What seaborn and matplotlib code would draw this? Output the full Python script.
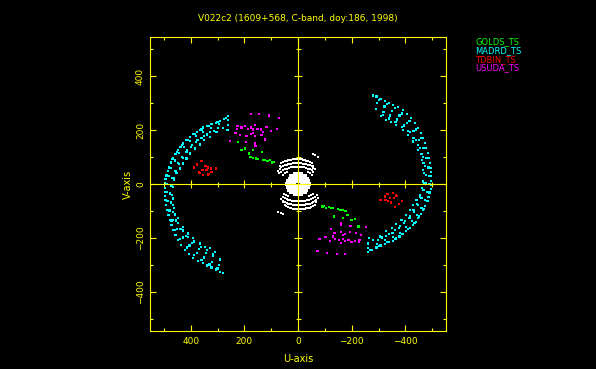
import pandas as pd
import seaborn as sns
import matplotlib.pyplot as plt
from matplotlib.ticker import MultipleLocator

# uv points (one half; the conjugate half is -u, -v)
stations = ['GOLDS_TS', 'MADRD_TS', 'TDBIN_TS', 'USUDA_TS']
colors = ['#00ff00', '#00ffff', '#ff0000', '#ff00ff']

golds_u = [225, 211, 199, 184, 177, 168, 168, 158, 149, 134, 130, 124, 114, 105, 97, 89, 93]
golds_v = [157, 128, 132, 114, 101, 97, 126, 95, 92, 120, 89, 89, 86, 89, 80, 83, 83]

madrd_u = [261, 292, 323, 354, 378, 403, 428, 447, 466, 480, 490, 496, 496, 494, 488, 478, 466, 447, 422, 391, 354, 323, 292, 279,
           276, 307, 338, 366, 391, 416, 438, 457, 473, 486, 494, 496, 495, 491, 483, 472, 457, 435, 407, 373, 338, 307,
           270, 300, 332, 360, 386, 410, 434, 452, 470, 482, 490, 493, 492, 489, 482, 472, 458, 440, 415, 388, 360, 330, 300,
           262, 295, 325, 355, 380, 402, 425, 443, 460, 473, 482, 487, 487, 484, 477, 466, 450, 430, 405, 378, 350, 322, 295,
           262, 298, 328, 352, 375, 395, 415, 432, 447, 460, 470, 475, 476, 473, 466, 454, 438, 418, 395, 370, 343, 318, 290,
           280, 313, 338, 360, 380, 398, 416, 430, 443, 455, 464, 469, 470, 467, 460, 447, 430, 410, 388, 363, 338, 316,
           263, 304, 329, 350, 366, 385, 403, 416, 428, 441, 453, 462, 466, 466, 462, 447, 428, 410, 391, 366, 347, 329, 310]
madrd_v = [252, 235, 222, 210, 194, 175, 151, 126, 95, 64, 33, 3, -29, -59, -96, -133, -170, -207, -245, -275, -294, -309, -325, -329,
           243, 228, 216, 202, 185, 163, 139, 111, 80, 48, 18, -13, -44, -78, -115, -152, -189, -226, -260, -285, -302, -317,
           245, 230, 216, 203, 186, 165, 144, 120, 92, 62, 30, 0, -30, -62, -98, -135, -170, -203, -235, -262, -282, -298, -313,
           238, 222, 208, 195, 180, 160, 138, 115, 88, 60, 30, 0, -30, -62, -98, -133, -165, -198, -228, -255, -272, -288, -300,
           220, 208, 193, 180, 163, 145, 125, 102, 78, 50, 22, -5, -35, -68, -102, -135, -165, -193, -218, -240, -255, -268, -280,
           208, 198, 184, 170, 155, 138, 118, 97, 74, 48, 22, -5, -40, -78, -113, -145, -172, -196, -213, -232, -244, -258,
           200, 194, 175, 163, 147, 132, 114, 95, 77, 58, 40, 15, -10, -53, -90, -127, -158, -183, -201, -220, -232, -238, -252]

tdbin_u = [360, 376, 387, 345, 335, 326, 307, 356, 341, 323, 369, 335, 354, 366, 333]
tdbin_v = [85, 73, 62, 68, 62, 58, 58, 52, 52, 46, 43, 36, 33, 42, 37]

usuda_u = [176, 146, 109, 72, 226, 229, 211, 199, 188, 174, 168, 161, 151, 139, 130, 118, 102, 80,
           233, 217, 192, 174, 161, 136, 124, 254, 195, 161, 159, 168]
usuda_v = [259, 259, 255, 247, 216, 206, 210, 215, 206, 210, 203, 219, 206, 203, 194, 212, 197, 204,
           190, 182, 178, 185, 178, 182, 166, 159, 155, 151, 143, 190]

# short baselines near the origin (white)
ground_u = [68, 62, 55, 49, 43, 37, 31, 25, 18, 12, 6, 0, -6, -13, -19, -25, -31, -37, -44, -50, -56,
            75, 68, 62, 56, 50, 43, 37, 31, 25, 18, 12, 6, 0, -6, -12, -19, -25, -31, -37, -43, -50, -56, -62,
            70, 62, 55, 48, 41, 34, 27, 20, 13, 6, -1, -8, -15, -22, -29, -36, -43, -50, -57,
            55, 48, 41, -38, -45, -52, -56, -62, -75]
ground_v = [68, 77, 82, 85, 87, 89, 90, 91, 92, 92, 93, 93, 93, 92, 91, 89, 87, 85, 81, 77, 68,
            50, 58, 63, 67, 70, 72, 74, 75, 76, 77, 77, 78, 78, 78, 77, 76, 75, 74, 72, 70, 66, 61, 55,
            40, 46, 51, 55, 58, 60, 62, 63, 64, 64, 64, 64, 63, 62, 60, 58, 55, 51, 46,
            35, 40, 44, 44, 40, 35, 111, 107, 102]
core_u = [-12, 0, 12, -25, -12, 0, 12, 25, -33, -20, -8, 5, 18, 30,
          -38, -25, -12, 0, 12, 25, 38, -40, -28, -15, 15, 28, 40]
core_v = [38, 38, 38, 30, 30, 30, 30, 30, 20, 20, 20, 20, 20, 20,
          10, 10, 10, 10, 10, 10, 10, 0, 0, 0, 0, 0, 0]

title = 'V022c2 (1609+568, C-band, doy:186, 1998)'


def both_halves(u, v):
    return u + [-x for x in u], v + [-y for y in v]


frames = []
for name, u, v in zip(stations, [golds_u, madrd_u, tdbin_u, usuda_u],
                      [golds_v, madrd_v, tdbin_v, usuda_v]):
    uu, vv = both_halves(u, v)
    frames.append(pd.DataFrame({'u': uu, 'v': vv, 'station': name}))
df = pd.concat(frames, ignore_index=True)

gu, gv = both_halves(ground_u, ground_v)
cu, cv = both_halves(core_u, core_v)
ground = pd.DataFrame({'u': gu, 'v': gv})
core = pd.DataFrame({'u': cu, 'v': cv})

yellow = '#ffff00'
fig = plt.figure(figsize=(5.96, 3.69), dpi=100, facecolor='black')
ax = fig.add_axes([0.2525, 0.103, 0.4953, 0.7959], facecolor='black')

sns.scatterplot(data=core, x='u', y='v', color='white', marker='s', s=8, linewidth=0, ax=ax)
sns.scatterplot(data=ground, x='u', y='v', color='white', marker='s', s=2.5, linewidth=0, ax=ax)
sns.scatterplot(data=df, x='u', y='v', hue='station', palette=dict(zip(stations, colors)),
                marker='s', s=2.5, linewidth=0, legend=False, ax=ax)

ax.set_xlim(550, -550)
ax.set_ylim(-545, 545)
ax.xaxis.set_major_locator(MultipleLocator(200))
ax.xaxis.set_minor_locator(MultipleLocator(100))
ax.yaxis.set_major_locator(MultipleLocator(200))
ax.yaxis.set_minor_locator(MultipleLocator(100))
for s in ax.spines.values():
    s.set_color(yellow)
    s.set_linewidth(0.8)
ax.tick_params(which='both', direction='in', top=True, right=True, color=yellow,
               labelcolor=yellow, labelsize=6.5, width=0.8)
ax.tick_params(which='major', length=4, pad=4)
ax.tick_params(which='minor', length=2.4)
plt.setp(ax.get_yticklabels(), rotation=90, va='center')
ax.set_xlabel('U-axis', color=yellow, fontsize=7, labelpad=6)
ax.set_ylabel('V-axis', color=yellow, fontsize=7, labelpad=2)
ax.set_title(title, color=yellow, fontsize=6.5, pad=12)

# zero lines with crossing ticks
ax2 = fig.add_axes(ax.get_position(), facecolor='none')
ax2.set_xlim(ax.get_xlim())
ax2.set_ylim(ax.get_ylim())
ax2.xaxis.set_major_locator(MultipleLocator(200))
ax2.xaxis.set_minor_locator(MultipleLocator(100))
ax2.yaxis.set_major_locator(MultipleLocator(200))
ax2.yaxis.set_minor_locator(MultipleLocator(100))
ax2.spines['top'].set_visible(False)
ax2.spines['right'].set_visible(False)
for side in ('left', 'bottom'):
    ax2.spines[side].set_position(('data', 0))
    ax2.spines[side].set_color(yellow)
    ax2.spines[side].set_linewidth(0.8)
ax2.tick_params(which='both', direction='inout', color=yellow, width=0.8,
                labelleft=False, labelbottom=False)
ax2.tick_params(which='major', length=6)
ax2.tick_params(which='minor', length=3.6)

for i, (name, c) in enumerate(zip(stations, colors)):
    fig.text(475 / 596, 1 - (42 + 8.7 * i) / 369, name, color=c, fontsize=6,
             ha='left', va='center')

fig.savefig('out.png', dpi=100, facecolor='black')
